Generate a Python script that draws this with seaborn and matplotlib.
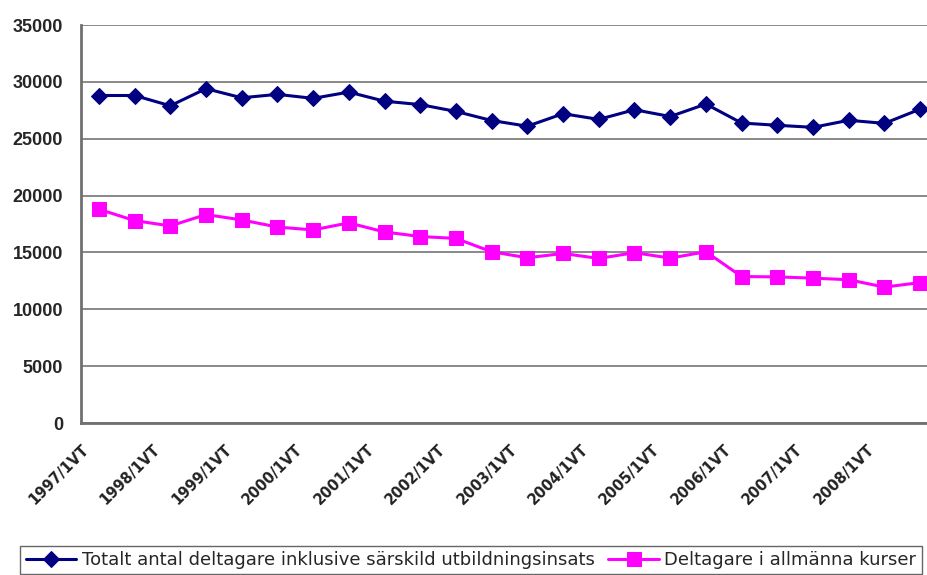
import matplotlib
matplotlib.use("Agg")
import matplotlib.pyplot as plt
import seaborn as sns
import pandas as pd
import numpy as np

periods = ["1997/1VT", "1997/2HT", "1998/1VT", "1998/2HT", "1999/1VT", "1999/2HT",
           "2000/1VT", "2000/2HT", "2001/1VT", "2001/2HT", "2002/1VT", "2002/2HT",
           "2003/1VT", "2003/2HT", "2004/1VT", "2004/2HT", "2005/1VT", "2005/2HT",
           "2006/1VT", "2006/2HT", "2007/1VT", "2007/2HT", "2008/1VT", "2008/2HT"]
totalt = [28800, 28800, 27900, 29400, 28600, 28900, 28550, 29100, 28300, 28000,
          27400, 26600, 26100, 27200, 26700, 27550, 26950, 28050, 26380, 26180,
          26000, 26620, 26350, 27600]
allmanna = [18800, 17800, 17330, 18330, 17860, 17230, 16980, 17600, 16800, 16400,
            16230, 15060, 14530, 14910, 14470, 14980, 14500, 15060, 12880, 12850,
            12740, 12600, 11950, 12350]
series_names = ["Totalt antal deltagare inklusive särskild utbildningsinsats",
                "Deltagare i allmänna kurser"]
yticks = [0, 5000, 10000, 15000, 20000, 25000, 30000, 35000]

sns.set_theme(style="white")
plt.rcParams["font.family"] = ["Liberation Sans", "DejaVu Sans"]

fig = plt.figure(figsize=(9.27, 5.75), dpi=100)
W, H = 927, 575
ax = fig.add_axes([81 / W, (575 - 423) / H, (938 - 81) / W, (423 - 25) / H])

idx = np.arange(len(periods))
df = pd.DataFrame({"pos": np.concatenate([idx, idx]),
                   "value": totalt + allmanna,
                   "serie": [series_names[0]] * len(periods) + [series_names[1]] * len(periods)})

sns.lineplot(data=df[df.serie == series_names[0]], x="pos", y="value", ax=ax,
             color="#000080", linewidth=2.2, marker="D", markersize=8,
             markeredgecolor="#000080", label=series_names[0], legend=False)
sns.lineplot(data=df[df.serie == series_names[1]], x="pos", y="value", ax=ax,
             color="#FF00FF", linewidth=2.2, marker="s", markersize=9.5,
             markeredgecolor="#FF00FF", label=series_names[1], legend=False)

ax.set_xlim(-0.5, len(periods) - 0.5)
ax.set_ylim(0, 35000)
ax.set_yticks(yticks)
ax.set_yticklabels([str(v) for v in yticks], fontsize=13, fontweight="bold")
ax.yaxis.grid(True, color="#808080", linewidth=1.3)
ax.set_axisbelow(True)

bounds = idx - 0.5
ax.set_xticks(bounds)
ax.set_xticklabels([p if i % 2 == 0 else "" for i, p in enumerate(periods)],
                   rotation=45, ha="right", va="top", rotation_mode="anchor",
                   fontsize=10.5, fontweight="bold", family="DejaVu Sans", color="#222222")
ax.tick_params(axis="x", direction="out", length=4.3, width=1, color="#606060", pad=9)
ax.tick_params(axis="y", direction="out", length=4.3, width=1, color="#606060", pad=8.6)
ax.set_xlabel("")
ax.set_ylabel("")

for s in ["top", "right"]:
    ax.spines[s].set_visible(False)
ax.spines["left"].set_color("#707070")
ax.spines["left"].set_linewidth(2)
ax.spines["bottom"].set_color("#707070")
ax.spines["bottom"].set_linewidth(2)

handles, labels = ax.get_legend_handles_labels()
leg = fig.legend(handles, labels, loc="center", bbox_to_anchor=(471 / W, (575 - 560) / H),
                 ncol=2, frameon=True, fancybox=False,
                 prop={"family": "DejaVu Sans", "size": 13},
                 handlelength=2.8, handletextpad=0.28, columnspacing=0.78,
                 borderpad=0.3, borderaxespad=0)
leg.get_frame().set_edgecolor("#404040")
leg.get_frame().set_linewidth(1)

fig.savefig("out.png", dpi=100)
